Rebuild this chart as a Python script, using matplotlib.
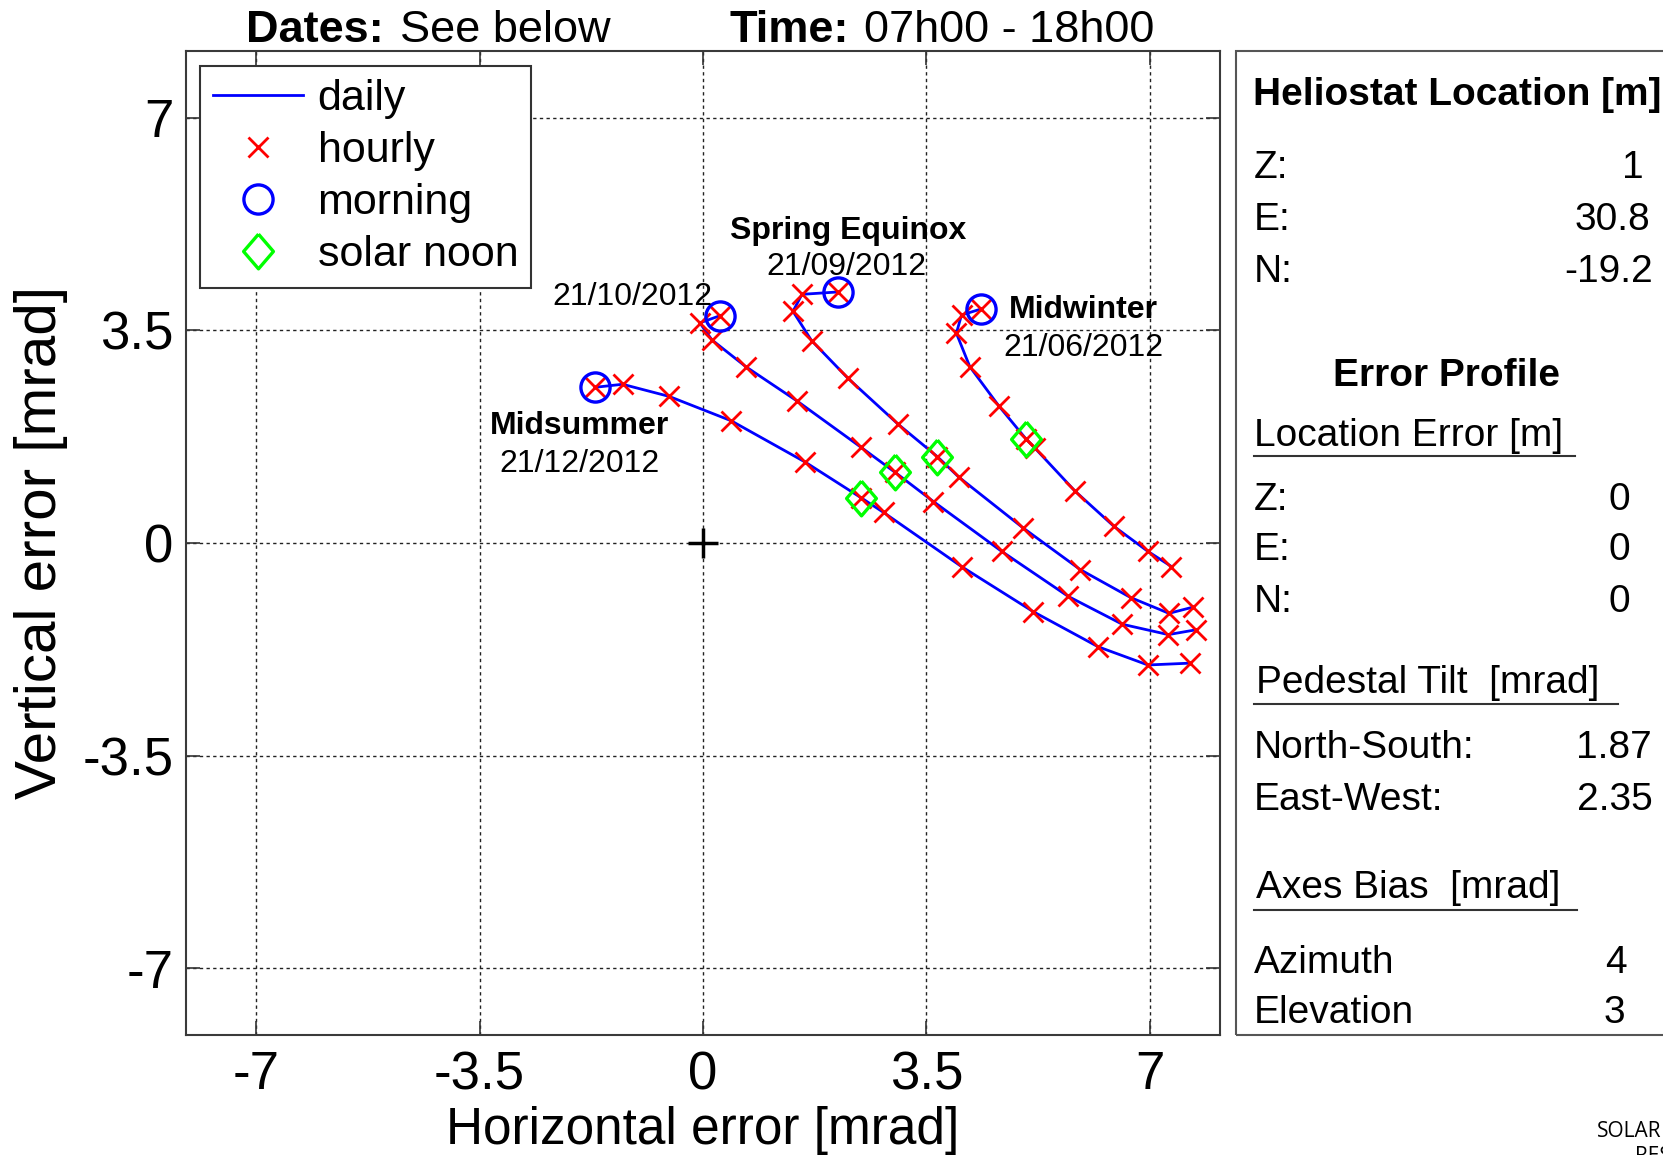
import matplotlib
matplotlib.use('Agg')
import matplotlib.pyplot as plt
from matplotlib.lines import Line2D
from matplotlib.patches import Rectangle

plt.rcParams['font.family'] = ['Liberation Sans', 'DejaVu Sans']

# ---------------- data ----------------
tick_values = [-7, -3.5, 0, 3.5, 7]
tick_labels = ['-7', '-3.5', '0', '3.5', '7']

midsummer_x = [-1.69, -1.26, -0.53, 0.44, 1.60, 2.48, 2.83, 4.05, 5.17, 6.19, 6.97, 7.63]
midsummer_y = [2.56, 2.61, 2.41, 2.01, 1.33, 0.74, 0.50, -0.39, -1.13, -1.71, -2.01, -1.98]

october_x = [0.27, -0.05, 0.14, 0.67, 1.48, 2.48, 3.01, 3.61, 4.68, 5.72, 6.57, 7.29, 7.73]
october_y = [3.74, 3.62, 3.34, 2.90, 2.33, 1.57, 1.16, 0.68, -0.14, -0.88, -1.34, -1.51, -1.43]

equinox_x = [2.12, 1.55, 1.41, 1.70, 2.27, 3.06, 3.67, 4.01, 5.01, 5.91, 6.70, 7.30, 7.67]
equinox_y = [4.13, 4.09, 3.81, 3.33, 2.71, 1.95, 1.42, 1.08, 0.25, -0.44, -0.90, -1.16, -1.06]

midwinter_x = [4.36, 4.05, 3.97, 4.18, 4.63, 5.06, 5.20, 5.83, 6.44, 6.97, 7.34]
midwinter_y = [3.85, 3.75, 3.45, 2.90, 2.26, 1.71, 1.56, 0.85, 0.27, -0.14, -0.39]

noon_x = [2.48, 3.01, 3.66, 5.06]
noon_y = [0.74, 1.16, 1.41, 1.71]

# annotation labels: (text, x, y, weight, ha)
annotations = [
    ('Spring Equinox', 2.27, 5.00, 'bold', 'center'),
    ('21/09/2012', 2.25, 4.41, 'normal', 'center'),
    ('21/10/2012', -1.11, 3.92, 'normal', 'center'),
    ('Midsummer', -1.93, 1.79, 'bold', 'center'),
    ('21/12/2012', -1.94, 1.16, 'normal', 'center'),
    ('Midwinter', 4.80, 3.70, 'bold', 'left'),
    ('21/06/2012', 5.96, 3.07, 'normal', 'center'),
]

legend_labels = ['daily', 'hourly', 'morning', 'solar noon']

panel_rows = [  # (label, value, baseline_px, value_right_px)
    ('Z:', '1', 178.3, 1643.3),
    ('E:', '30.8', 230.0, 1650.0),
    ('N:', '-19.2', 281.7, 1653.3),
    ('Z:', '0', 510.0, 1630.0),
    ('E:', '0', 560.0, 1630.0),
    ('N:', '0', 611.7, 1630.0),
    ('North-South:', '1.87', 758.3, 1652.0),
    ('East-West:', '2.35', 810.0, 1653.0),
    ('Azimuth', '4', 973.3, 1626.7),
    ('Elevation', '3', 1023.3, 1625.0),
]
panel_headers = [  # (text, x_px, baseline_px, weight, underline_end_px)
    ('Heliostat Location [m]', 1253, 105.0, 'bold', None),
    ('Error Profile', 1333, 386.0, 'bold', None),
    ('Location Error [m]', 1254, 446.0, 'normal', 1575),
    ('Pedestal Tilt  [mrad]', 1256, 693.3, 'normal', 1618),
    ('Axes Bias  [mrad]', 1256, 898.3, 'normal', 1577),
]
underline_y = {'Location Error [m]': 456, 'Pedestal Tilt  [mrad]': 704, 'Axes Bias  [mrad]': 910}

# ---------------- figure ----------------
W, H, DPI = 1663, 1155, 100
fig = plt.figure(figsize=(W / DPI, H / DPI), dpi=DPI)
fig.patch.set_facecolor('white')


def fx(x):
    return x / W


def fy(y):
    return 1 - y / H


ax_l, ax_r, ax_t, ax_b = 186, 1220, 50.7, 1035
ax = fig.add_axes([fx(ax_l), fy(ax_b), (ax_r - ax_l) / W, (ax_b - ax_t) / H])
ax.set_xlim(-8.1, 8.1)
ax.set_ylim(-8.1, 8.1)
ax.set_xticks(tick_values)
ax.set_xticklabels(tick_labels)
ax.set_yticks(tick_values)
ax.set_yticklabels(tick_labels)
ax.set_axisbelow(True)
ax.grid(True, linestyle=(0, (2.4, 2.4)), color='#222222', linewidth=1.0)
ax.tick_params(direction='in', length=10, width=1.2, color='#333333',
               top=True, right=True, labelsize=38)
ax.tick_params(axis='x', pad=11)
ax.tick_params(axis='y', pad=9)
for sp in ax.spines.values():
    sp.set_color('#3a3a3a')
    sp.set_linewidth(1.5)

blue = '#0000FF'
red = '#FF0000'
green = '#00FF00'
diamond = [(0, 1), (0.86, 0), (0, -1), (-0.86, 0), (0, 1)]

curves = [(midsummer_x, midsummer_y), (october_x, october_y),
          (equinox_x, equinox_y), (midwinter_x, midwinter_y)]
for cx, cy in curves:
    ax.plot(cx, cy, color=blue, lw=2.0, zorder=3)
for cx, cy in curves:
    ax.plot(cx, cy, ls='none', marker='x', ms=14, mew=2.0, color=red, zorder=4)
for cx, cy in curves:
    ax.plot(cx[0], cy[0], ls='none', marker='o', ms=21, mew=2.4,
            mfc='none', mec=blue, zorder=5)
ax.plot(noon_x, noon_y, ls='none', marker=diamond, ms=25, mew=2.4,
        mfc='none', mec=green, zorder=6)
ax.plot([0], [0], ls='none', marker='+', ms=22, mew=2.5, color='black', zorder=6)

for txt, x, y, wt, ha in annotations:
    ax.text(x, y, txt, fontsize=23, fontweight=wt, ha=ha, va='baseline', zorder=7)

handles = [
    Line2D([], [], color=blue, lw=2.0),
    Line2D([], [], ls='none', marker='x', ms=14, mew=2.0, color=red),
    Line2D([], [], ls='none', marker='o', ms=21, mew=2.4, mfc='none', mec=blue),
    Line2D([], [], ls='none', marker=diamond, ms=25, mew=2.4, mfc='none', mec=green),
]
leg = ax.legend(handles, legend_labels, loc='upper left',
                bbox_to_anchor=((200 - ax_l) / (ax_r - ax_l), (ax_b - 65.7) / (ax_b - ax_t)),
                borderaxespad=0, fontsize=31, frameon=True, fancybox=False,
                edgecolor='#333333', framealpha=1, handlelength=2.1,
                handletextpad=0.33, labelspacing=0.28, borderpad=0.3)
leg.get_frame().set_linewidth(1.5)
leg.set_zorder(10)

ax.set_xlabel('Horizontal error [mrad]', fontsize=37)
ax.xaxis.set_label_coords(0.5, (ax_b - 1106) / (ax_b - ax_t))
ax.set_ylabel('Vertical error [mrad]', fontsize=42)
ax.yaxis.set_label_coords((68 - ax_l) / (ax_r - ax_l), 0.5)

# ---------------- title ----------------
fig.text(fx(246), fy(42), 'Dates:', fontsize=32.5, fontweight='bold', va='baseline')
fig.text(fx(400), fy(42), 'See below', fontsize=32.5, va='baseline')
fig.text(fx(729.7), fy(42), 'Time:', fontsize=32.5, fontweight='bold', va='baseline')
fig.text(fx(864), fy(42), '07h00 - 18h00', fontsize=32.5, va='baseline')

# ---------------- right panel ----------------
fig.patches.append(Rectangle((fx(1236), fy(1035)), (1720 - 1236) / W, (1035 - 50.7) / H,
                             transform=fig.transFigure, fill=False,
                             edgecolor='#555555', linewidth=1.5))
for txt, x, y, wt, uend in panel_headers:
    fig.text(fx(x), fy(y), txt, fontsize=28, fontweight=wt, va='baseline')
    if uend is not None:
        uy = underline_y[txt]
        fig.add_artist(Line2D([fx(1254), fx(uend)], [fy(uy), fy(uy)],
                              transform=fig.transFigure, color='#333333', lw=1.5))
for lab, val, y, xr in panel_rows:
    fig.text(fx(1254), fy(y), lab, fontsize=28, va='baseline')
    fig.text(fx(xr), fy(y), val, fontsize=28, va='baseline', ha='right')

fig.text(fx(1597), fy(1136.7), 'SOLAR', fontsize=15,
         family=['Open Sans', 'DejaVu Sans'], va='baseline')
fig.text(fx(1635), fy(1161.7), 'RES', fontsize=15,
         family=['Open Sans', 'DejaVu Sans'], va='baseline')

fig.savefig('out.png', dpi=DPI)
